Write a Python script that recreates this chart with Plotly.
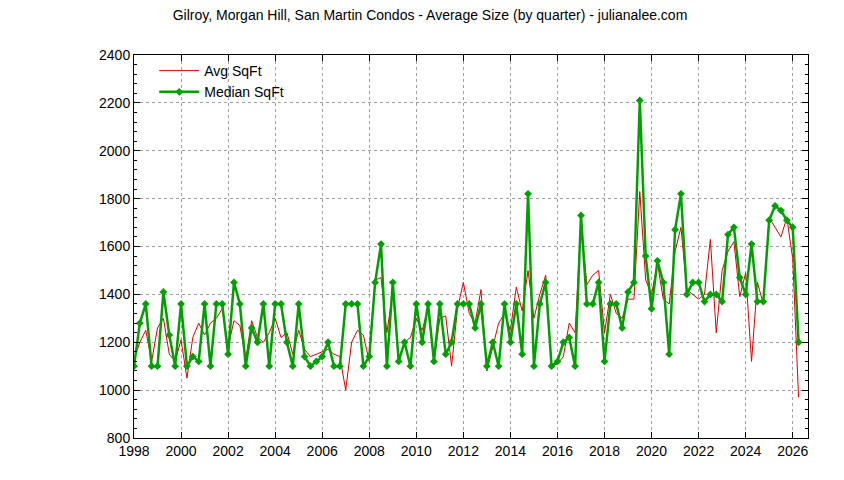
import plotly.graph_objects as go

years = [1998 + i * 0.25 for i in range(114)]
median_sqft = [1100,1280,1360,1100, 1100,1410,1230,1100, 1360,1100,1140,1120, 1360,1100,1360,1360,
               1150,1450,1360,1100, 1260,1200,1360,1100, 1360,1360,1200,1100, 1360,1140,1100,1120,
               1140,1200,1100,1100, 1360,1360,1360,1100, 1140,1450,1610,1100, 1450,1120,1200,1100,
               1360,1200,1360,1120, 1360,1150,1200,1360, 1360,1360,1260,1360, 1100,1200,1100,1360,
               1200,1360,1150,1820, 1100,1360,1450,1100, 1120,1200,1220,1100, 1730,1360,1360,1450,
               1120,1360,1360,1260, 1410,1450,2210,1560, 1340,1540,1450,1150, 1670,1820,1400,1450,
               1450,1370,1400,1400, 1370,1650,1680,1470, 1400,1610,1370,1370, 1710,1770,1750,1710,
               1680,1200]
avg_sqft = [1130,1200,1250,1120, 1260,1300,1150,1120, 1210,1050,1220,1280, 1230,1280,1300,1340,
            1180,1290,1270,1130, 1290,1220,1200,1240, 1300,1220,1240,1150, 1250,1170,1140,1150,
            1160,1170,1150,1140, 1000,1200,1250,1230, 1120,1460,1470,1240, 1410,1130,1200,1220,
            1300,1250,1340,1120, 1300,1310,1100,1340, 1450,1320,1280,1420, 1080,1180,1280,1320,
            1250,1430,1330,1500, 1300,1400,1480,1100, 1110,1140,1280,1240, 1700,1440,1480,1500,
            1240,1400,1320,1300, 1380,1380,1830,1460, 1400,1530,1380,1360, 1580,1680,1420,1400,
            1380,1400,1630,1240, 1500,1580,1620,1390, 1490,1120,1450,1360, 1720,1680,1640,1720,
            1550,970]

fig = go.Figure()
fig.add_trace(go.Scatter(x=years, y=avg_sqft, name="Avg SqFt", mode="lines",
                         line=dict(color="#dd0000", width=1)))
fig.add_trace(go.Scatter(x=years, y=median_sqft, name="Median SqFt", mode="lines+markers",
                         line=dict(color="#00a000", width=2.5),
                         marker=dict(symbol="diamond", size=6, color="#00a000")))

ax = dict(showline=True, linecolor="black", linewidth=1, mirror="ticks", ticks="inside",
          ticklen=6, tickcolor="black", showgrid=True, gridcolor="#a0a0a0", griddash="dot",
          zeroline=False, automargin=False, tickfont=dict(size=14, color="black"))
fig.update_xaxes(range=[1998, 2026.65], dtick=2, tick0=1998, **ax)
fig.update_yaxes(range=[800, 2400], dtick=200, minor=dict(ticks="inside", ticklen=3, dtick=40, tickcolor="black"), **ax)
fig.update_layout(
    width=844, height=480, plot_bgcolor="white", paper_bgcolor="white",
    font=dict(family="Liberation Sans, Arial, sans-serif", color="black"),
    title=dict(text="Gilroy, Morgan Hill, San Martin Condos - Average Size (by quarter) - julianalee.com",
               x=0.5, xref="container", y=0.995, yanchor="top", font=dict(size=14)),
    margin=dict(l=126, r=44, t=47, b=50, autoexpand=False),
    legend=dict(x=0.03, y=1.0, xanchor="left", yanchor="top", bgcolor="rgba(0,0,0,0)",
                font=dict(size=14), tracegroupgap=0, itemwidth=40),
    showlegend=True,
)
fig.write_html("out.html")
